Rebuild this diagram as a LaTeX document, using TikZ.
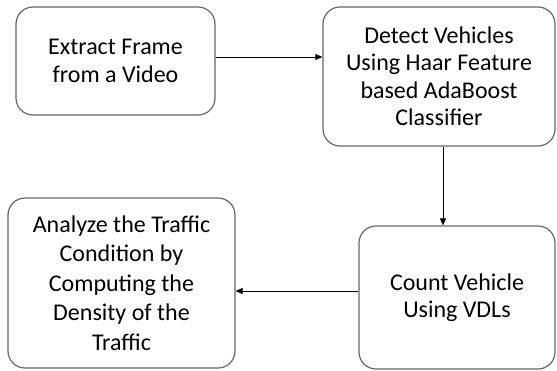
\documentclass[tikz,border=0pt]{standalone}
\usepackage{fontspec}
\setmainfont{Carlito}
\usetikzlibrary{arrows.meta}
\begin{document}
\begin{tikzpicture}[x=1pt,y=-1pt,
  box/.style={draw=black!60,line width=1.2pt,rounded corners=17pt,align=center,
    font=\fontsize{24}{27.5}\selectfont,inner sep=0pt},
  conn/.style={draw=black,line width=0.9pt,-{Triangle[length=7pt,width=6pt]}}]
\useasboundingbox (0,0) rectangle (557,370);
\node[box,minimum width=199pt,minimum height=108pt] (b1) at (115.5,61) {Extract Frame\\from a Video};
\node[box,minimum width=232pt,minimum height=139pt] (b2) at (439,76.5) {Detect Vehicles\\Using Haar Feature\\based AdaBoost\\Classifier};
\node[box,minimum width=196pt,minimum height=143pt] (b3) at (457,297.5) {Count Vehicle\\Using VDLs};
\node[box,minimum width=227pt,minimum height=170pt,font=\fontsize{24}{29.5}\selectfont] (b4) at (121.5,283) {Analyze the Traffic\\Condition by\\Computing the\\Density of the\\Traffic};
\coordinate (a1) at (0,57);
\coordinate (a2) at (443,0);
\coordinate (a3) at (0,291);
\draw[conn] (b1.east |- a1) -- (b2.west |- a1);
\draw[conn] (a2 |- b2.south) -- (a2 |- b3.north);
\draw[conn] (b3.west |- a3) -- (b4.east |- a3);
\end{tikzpicture}
\end{document}
